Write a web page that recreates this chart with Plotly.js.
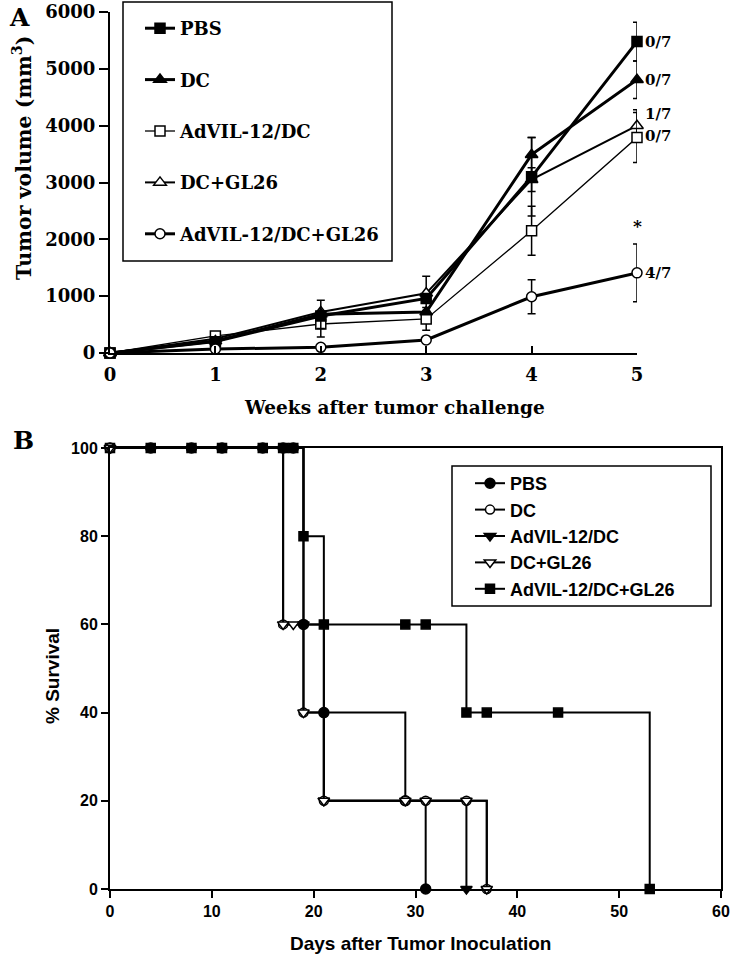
<!DOCTYPE html>
<html>
<head>
<meta charset="utf-8">
<script src="https://cdn.plot.ly/plotly-3.0.1.min.js"></script>
<style>
  html, body { margin: 0; padding: 0; background: #fff; }
  #chart { width: 730px; height: 957px; }
</style>
</head>
<body>
<div id="chart"></div>
<script>
/**
 * Panel A: tumour volume per week (mean +/- error)
 */
const weeks = [0, 1, 2, 3, 4, 5];
const pbsVol = [0, 200, 650, 960, 3100, 5480];
const dcVol = [0, 210, 680, 720, 3490, 4810];
const advDcVol = [0, 300, 510, 600, 2150, 3790];
const dcGlVol = [0, 250, 720, 1050, 3050, 4000];
const advDcGlVol = [0, 70, 100, 230, 990, 1410];

const pbsErr = [0, 0, 0, 0, 690, 340];
const dcErr = [0, 0, 250, 0, 300, 330];
const advDcErr = [0, 0, 230, 200, 430, 440];
const dcGlErr = [0, 0, 0, 300, 210, 280];
const advDcGlErr = [0, 0, 0, 0, 300, 510];

// tumour-free mice at week 5
const survivors = ['0/7', '0/7', '0/7', '1/7', '4/7'];

const names = ['PBS', 'DC', 'AdVIL-12/DC', 'DC+GL26', 'AdVIL-12/DC+GL26'];

/**
 * Panel B: Kaplan-Meier survival (% survival by day)
 */
const pbsDays = [0, 4, 8, 11, 15, 17, 18, 19, 21, 29, 31];
const pbsSurv = [100, 100, 100, 100, 100, 100, 100, 60, 40, 20, 0];
const dcDays = [0, 17, 19, 21, 29, 31, 35, 37];
const dcSurv = [100, 60, 40, 20, 20, 20, 20, 0];
const advDcDays = [0, 19, 21, 35];
const advDcSurv = [100, 60, 20, 0];
const dcGlDays = [0, 17, 18, 19, 21, 29, 31, 35, 37];
const dcGlSurv = [100, 60, 60, 40, 20, 20, 20, 20, 0];
const advDcGlDays = [0, 4, 8, 11, 15, 17, 18, 19, 21, 29, 31, 35, 37, 44, 53];
const advDcGlSurv = [100, 100, 100, 100, 100, 100, 100, 80, 60, 60, 60, 40, 40, 40, 0];

const serif = 'DejaVu Serif';
const sans = 'Liberation Sans';

function volTrace(i, y, err, symbol, fill, width, size) {
    return {
        x: weeks, y: y,
        xaxis: 'x', yaxis: 'y',
        name: names[i],
        legend: 'legend',
        legendgroup: 'a' + i,
        legendrank: i + 1,
        mode: 'lines+markers',
        cliponaxis: false,
        line: {color: 'black', width: width},
        marker: {symbol: symbol, size: size, color: fill, line: {color: 'black', width: 1.5}},
        error_y: {type: 'data', array: err, visible: true, color: 'black', thickness: 1.5, width: 4}
    };
}

function survTrace(i, x, y, symbol, fill, size) {
    return {
        x: x, y: y,
        xaxis: 'x2', yaxis: 'y2',
        name: names[i],
        legend: 'legend2',
        legendgroup: 'b' + i,
        legendrank: i + 1,
        mode: 'lines+markers',
        cliponaxis: false,
        line: {color: 'black', width: 2, shape: 'hv'},
        marker: {symbol: symbol, size: size, color: fill, line: {color: 'black', width: 1.5}}
    };
}

var data = [
    volTrace(3, dcGlVol, dcGlErr, 'triangle-up', 'white', 2, 11),
    volTrace(2, advDcVol, advDcErr, 'square', 'white', 1.3, 10),
    volTrace(0, pbsVol, pbsErr, 'square', 'black', 3, 10),
    volTrace(1, dcVol, dcErr, 'triangle-up', 'black', 3, 11),
    volTrace(4, advDcGlVol, advDcGlErr, 'circle', 'white', 3, 10),

    survTrace(4, advDcGlDays, advDcGlSurv, 'square', 'black', 9),
    survTrace(0, pbsDays, pbsSurv, 'circle', 'black', 10),
    survTrace(2, advDcDays, advDcSurv, 'triangle-down', 'black', 10),
    survTrace(1, dcDays, dcSurv, 'circle', 'white', 9),
    survTrace(3, dcGlDays, dcGlSurv, 'triangle-down', 'white', 10)
];

// labels beside the week-5 points
const lastVals = [pbsVol[5], dcVol[5], advDcVol[5], dcGlVol[5], advDcGlVol[5]];
const labelShift = [0, 0, 2, 12, 0];
var annotations = survivors.map(function (s, i) {
    return {
        x: weeks[5], y: lastVals[i], xref: 'x', yref: 'y',
        text: s, showarrow: false, xanchor: 'left', xshift: 6, yshift: labelShift[i],
        font: {family: serif, size: 15, weight: 'bold', color: 'black'}
    };
});

function paperText(px, py, text, family, size, angle) {
    return {
        x: px / 730, y: 1 - py / 957, xref: 'paper', yref: 'paper',
        xanchor: 'center', yanchor: 'middle', text: text, showarrow: false,
        textangle: angle || 0,
        font: {family: family, size: size, weight: 'bold', color: 'black'}
    };
}

annotations.push(
    {x: weeks[5], y: advDcGlVol[5] + advDcGlErr[5], xref: 'x', yref: 'y', text: '*',
     showarrow: false, yshift: 18, font: {family: serif, size: 17, weight: 'bold', color: 'black'}},
    paperText(19, 17, 'A', serif, 25),
    paperText(22, 158, 'Tumor volume (mm<sup>3</sup>)', serif, 20.5, -90),
    paperText(394, 407, 'Weeks after tumor challenge', serif, 18.5),
    paperText(24, 440, 'B', serif, 25),
    paperText(52, 676, '% Survival', sans, 19, -90),
    paperText(420, 943, 'Days after Tumor Inoculation', sans, 19)
);

var axisBase = {
    showline: true, linecolor: 'black', linewidth: 2,
    showgrid: false, zeroline: false,
    ticks: 'outside', tickcolor: 'black', tickwidth: 2, ticklen: 7
};

var layout = {
    width: 730, height: 957,
    margin: {l: 0, r: 0, t: 0, b: 0},
    paper_bgcolor: 'white', plot_bgcolor: 'white',
    showlegend: true,
    xaxis: Object.assign({}, axisBase, {
        domain: [110 / 730, 637 / 730], range: [0, 5], tickvals: weeks,
        ticks: 'inside', ticklabelstandoff: 4, anchor: 'y',
        tickfont: {family: serif, size: 18, weight: 'bold', color: 'black'}
    }),
    yaxis: Object.assign({}, axisBase, {
        domain: [1 - 353 / 957, 1 - 12 / 957], range: [0, 6000], dtick: 1000, anchor: 'x',
        ticklen: 9,
        tickfont: {family: serif, size: 18, weight: 'bold', color: 'black'}
    }),
    xaxis2: Object.assign({}, axisBase, {
        domain: [110 / 730, 721 / 730], range: [0, 60], dtick: 10, anchor: 'y2', mirror: true,
        tickfont: {family: sans, size: 16, weight: 'bold', color: 'black'}
    }),
    yaxis2: Object.assign({}, axisBase, {
        domain: [1 - 889 / 957, 1 - 448 / 957], range: [0, 100], dtick: 20, anchor: 'x2', mirror: true,
        tickfont: {family: sans, size: 16, weight: 'bold', color: 'black'}
    }),
    legend: {
        x: 140 / 730, y: 1 - 10 / 957, xanchor: 'left', yanchor: 'top',
        borderwidth: 0, bgcolor: 'rgba(0,0,0,0)',
        traceorder: 'grouped', tracegroupgap: 25,
        font: {family: serif, size: 18, weight: 'bold', color: 'black'}
    },
    legend2: {
        x: 470 / 730, y: 1 - 465 / 957, xanchor: 'left', yanchor: 'top',
        borderwidth: 0, bgcolor: 'rgba(0,0,0,0)',
        traceorder: 'grouped', tracegroupgap: 0,
        font: {family: sans, size: 18, weight: 'bold', color: 'black'}
    },
    // legend frames
    shapes: [
        {type: 'rect', xref: 'paper', yref: 'paper', layer: 'above',
         x0: 123 / 730, x1: 392 / 730, y0: 1 - 261 / 957, y1: 1 - 2 / 957,
         line: {color: 'black', width: 1.5}},
        {type: 'rect', xref: 'paper', yref: 'paper', layer: 'above',
         x0: 452 / 730, x1: 711 / 730, y0: 1 - 606 / 957, y1: 1 - 466 / 957,
         line: {color: 'black', width: 1.5}}
    ],
    annotations: annotations
};

Plotly.newPlot('chart', data, layout, {displayModeBar: false, staticPlot: true});
</script>
</body>
</html>
